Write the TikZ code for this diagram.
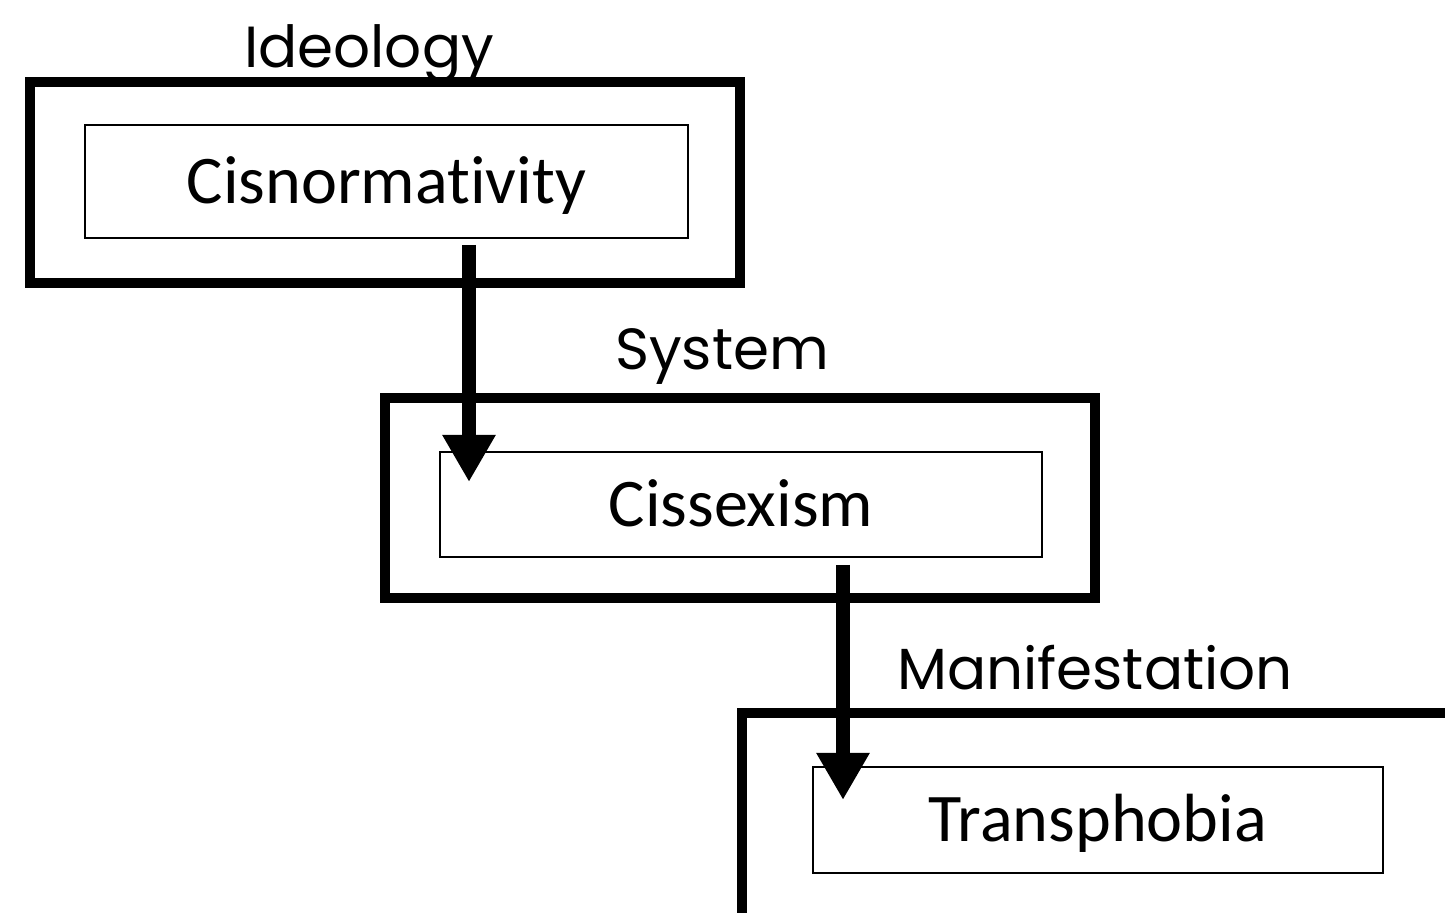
\documentclass[tikz,border=0pt]{standalone}
\usepackage{fontspec}
\setmainfont{Carlito}[Ligatures=NoCommon]
\newfontfamily\labelfont{Poppins}
\usetikzlibrary{arrows.meta}

\begin{document}
\begin{tikzpicture}[
    frame/.style={draw, line width=2.95pt, inner sep=0pt},
    term/.style={draw, line width=0.6pt, inner sep=0pt, font=\fontsize{19.4}{22}\selectfont,
      text height=12.5pt, text depth=0pt},
    level/.style={anchor=base, font=\labelfont\fontsize{16.5}{20}\selectfont},
    flow/.style={line width=0.14cm, -{Triangle[length=0.47cm, width=0.5cm]}}
  ]
      \useasboundingbox (0,0) rectangle (14.45,-9.13);
      \clip (0,0) rectangle (14.45,-9.13);

      \node[frame, minimum width=7.1cm, minimum height=2.01cm] (ideobox) at (3.85,-1.825) {};
      \node[frame, minimum width=7.1cm, minimum height=2.0cm] (sysbox) at (7.4,-4.98) {};
      \node[frame, minimum width=7.4cm, minimum height=2.4cm] (manibox) at (11.12,-8.33) {};

      \node[term, minimum width=6.03cm, minimum height=1.13cm] (cisnorm) at (3.865,-1.815) {Cisnormativity};
      \node[term, minimum width=6.02cm, minimum height=1.05cm] (cissex) at (7.41,-5.045) {Cissexism};
      \node[term, minimum width=5.70cm, minimum height=1.06cm] (transph) at (10.98,-8.20) {Transphobia};

      \node[level] (ideology) at (3.69,-0.68) {Ideology};
      \node[level] (system) at (7.22,-3.70) {System};
      \node[level] (manifest) at (10.95,-6.90) {Manifestation};

      \coordinate (a1top) at (4.69,-2.45);
      \coordinate (a1tip) at (4.69,-4.82);
      \coordinate (a2top) at (8.43,-5.65);
      \coordinate (a2tip) at (8.43,-8.00);
      \draw[flow] (a1top) -- (a1tip);
      \draw[flow] (a2top) -- (a2tip);
\end{tikzpicture}
\end{document}
